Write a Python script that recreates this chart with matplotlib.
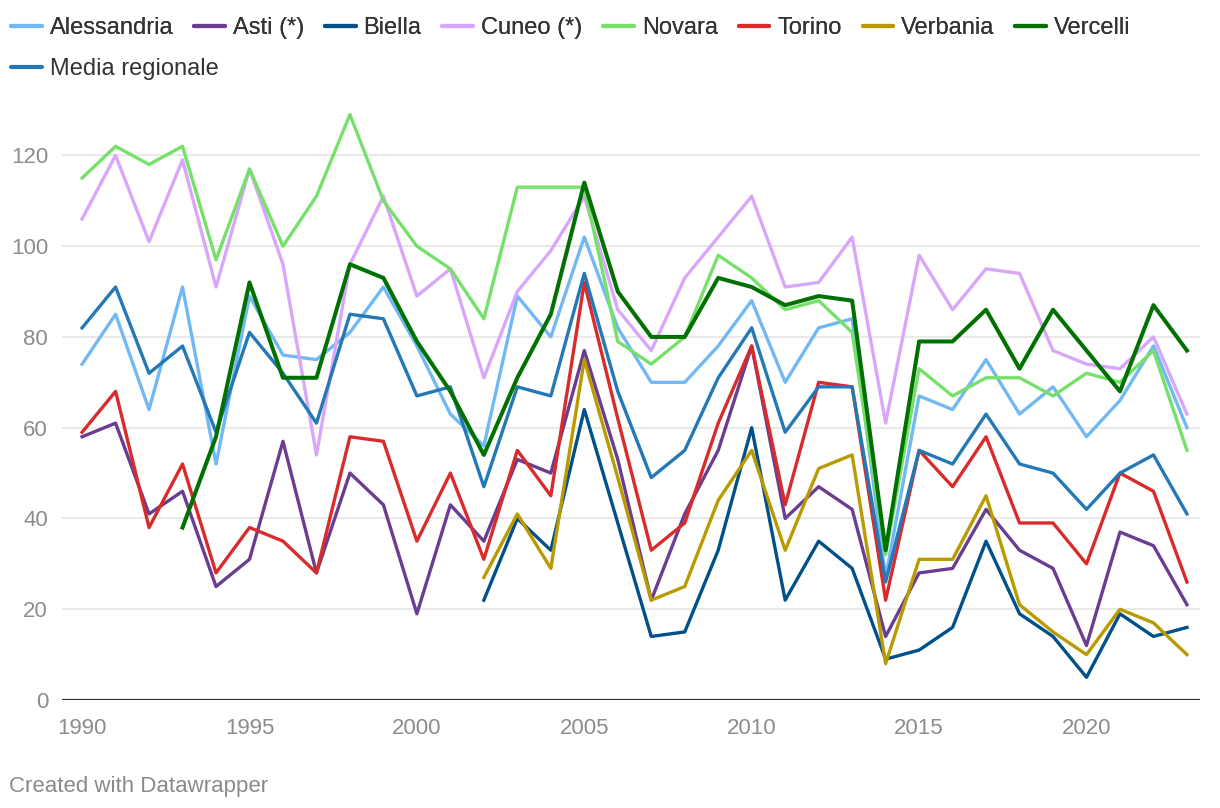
import numpy as np
import matplotlib
matplotlib.use('Agg')
import matplotlib.pyplot as plt
from matplotlib.lines import Line2D

plt.rcParams['font.family'] = ['Liberation Sans', 'DejaVu Sans']

# dati 1990-2023
years = list(range(1990, 2024))
nan = np.nan

alessandria = [74, 85, 64, 91, 52, 89, 76, 75, 81, 91,
               78, 63, 56, 89, 80, 102, 82, 70, 70, 78,
               88, 70, 82, 84, 27, 67, 64, 75, 63, 69,
               58, 66, 78, 60]
asti = [58, 61, 41, 46, 25, 31, 57, 28, 50, 43,
        19, 43, 35, 53, 50, 77, 53, 22, 41, 55,
        78, 40, 47, 42, 14, 28, 29, 42, 33, 29,
        12, 37, 34, 21]
biella = [nan] * 12 + [22, 40, 33, 64, 39, 14, 15, 33,
                       60, 22, 35, 29, 9, 11, 16, 35, 19, 14,
                       5, 19, 14, 16]
cuneo = [106, 120, 101, 119, 91, 117, 96, 54, 96, 111,
         89, 95, 71, 90, 99, 111, 86, 77, 93, 102,
         111, 91, 92, 102, 61, 98, 86, 95, 94, 77,
         74, 73, 80, 63]
novara = [115, 122, 118, 122, 97, 117, 100, 111, 129, 110,
          100, 95, 84, 113, 113, 113, 79, 74, 80, 98,
          93, 86, 88, 81, 32, 73, 67, 71, 71, 67,
          72, 70, 77, 55]
torino = [59, 68, 38, 52, 28, 38, 35, 28, 58, 57,
          35, 50, 31, 55, 45, 92, 62, 33, 39, 61,
          78, 43, 70, 69, 22, 55, 47, 58, 39, 39,
          30, 50, 46, 26]
verbania = [nan] * 12 + [27, 41, 29, 75, 49, 22, 25, 44,
                         55, 33, 51, 54, 8, 31, 31, 45, 21, 15,
                         10, 20, 17, 10]
vercelli = [nan] * 3 + [38, 58, 92, 71, 71, 96, 93,
                        79, 68, 54, 71, 85, 114, 90, 80, 80, 93,
                        91, 87, 89, 88, 33, 79, 79, 86, 73, 86,
                        77, 68, 87, 77]
media = [82, 91, 72, 78, 59, 81, 72, 61, 85, 84,
         67, 69, 47, 69, 67, 94, 68, 49, 55, 71,
         82, 59, 69, 69, 26, 55, 52, 63, 52, 50,
         42, 50, 54, 41]

names = ['Alessandria', 'Asti (*)', 'Biella', 'Cuneo (*)', 'Novara',
         'Torino', 'Verbania', 'Vercelli']
series = [alessandria, asti, biella, cuneo, novara, torino, verbania, vercelli]
colors = ['#71b8f5', '#6a3d91', '#00508a', '#d8a6fa', '#77e06b',
          '#d92b2b', '#b99a00', '#007100']
media_color = '#2378b5'

W, H = 1220, 808
fig = plt.figure(figsize=(W / 100, H / 100), dpi=100)
ax = fig.add_axes([62 / W, 108 / H, (1200 - 62) / W, (700 - 110) / H])

# linee (media e Vercelli sopra le altre)
for i in range(7):
    ax.plot(years, series[i], color=colors[i], lw=2.4,
            solid_joinstyle='round', zorder=3)
ax.plot(years, media, color=media_color, lw=2.4,
        solid_joinstyle='round', zorder=4)
ax.plot(years, vercelli, color=colors[7], lw=2.9,
        solid_joinstyle='round', zorder=5)

ax.set_xlim(1989.4, 2023.39)
ax.set_ylim(0, 130)
for s in ax.spines.values():
    s.set_visible(False)

for v in range(20, 121, 20):
    ax.axhline(v, color='#e3e3e3', lw=1.1, zorder=1)
ax.axhline(0, color='#333333', lw=1.6, zorder=6)

ax.set_yticks(range(0, 121, 20))
ax.set_xticks(range(1990, 2021, 5))
ax.tick_params(axis='y', length=0, pad=10, labelsize=16, labelcolor='#8c8c8c')
ax.tick_params(axis='x', length=0, pad=13, labelsize=16, labelcolor='#8c8c8c')

# legenda su due righe
def handle(c):
    return Line2D([0], [0], color=c, lw=3, solid_capstyle='round')

leg_kw = dict(frameon=False, fontsize=17, handlelength=1.3,
              handletextpad=0.34, columnspacing=0.88, borderpad=0,
              borderaxespad=0, labelcolor='#333333', loc='center left')
leg1 = fig.legend([handle(c) for c in colors], names, ncol=8,
                  bbox_to_anchor=(11 / W, 1 - 28 / H), **leg_kw)
leg2 = fig.legend([handle(media_color)], ['Media regionale'], ncol=1,
                  bbox_to_anchor=(11 / W, 1 - 69 / H), **leg_kw)
fig.add_artist(leg1)

fig.text(9 / W, 1 - 792 / H, 'Created with Datawrapper', fontsize=16,
         color='#8a8a8a', va='baseline', ha='left')

fig.savefig('out.png', dpi=100, facecolor='white')
